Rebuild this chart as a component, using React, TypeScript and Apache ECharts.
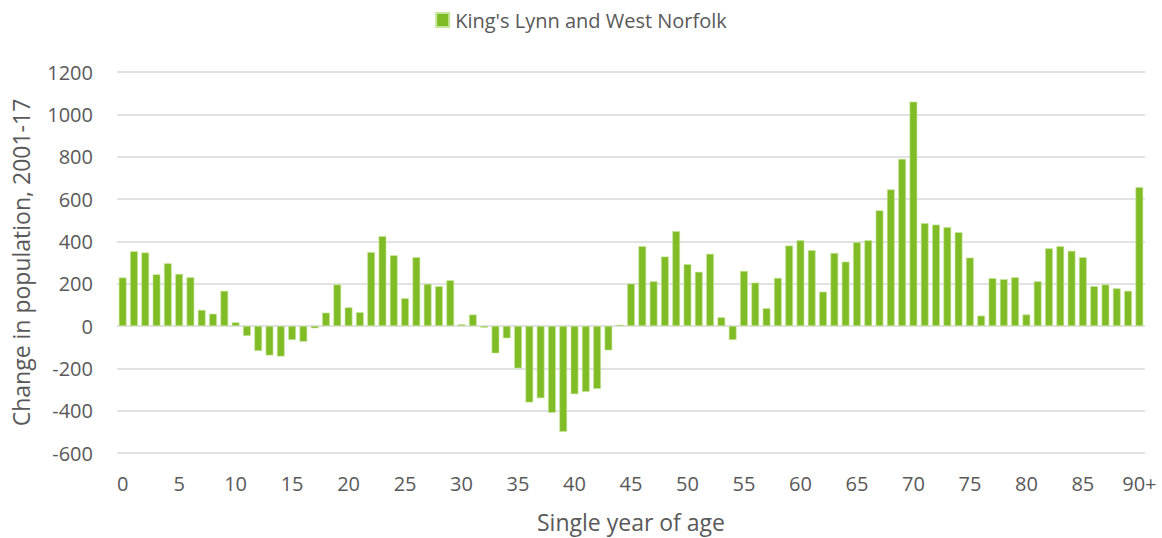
import React, { useEffect, useRef } from "react";
import * as echarts from "echarts";

const seriesName = "King's Lynn and West Norfolk";
const ages: string[] = [];
for (let i = 0; i <= 89; i++) ages.push(String(i));
ages.push("90+");

const values: number[] = [
  229, 353, 347, 244, 296, 246, 230, 76, 58, 166,
  17, -47, -118, -139, -144, -66, -74, -11, 63, 196,
  88, 65, 349, 424, 334, 131, 325, 199, 188, 216,
  8, 54, -8, -129, -58, -200, -361, -341, -410, -500,
  -322, -311, -297, -115, 6, 200, 377, 211, 328, 448,
  292, 256, 341, 41, -66, 260, 205, 84, 227, 380,
  405, 358, 162, 345, 304, 396, 405, 546, 645, 789,
  1060, 486, 479, 467, 443, 323, 49, 226, 221, 230,
  54, 211, 367, 377, 355, 325, 188, 196, 178, 166,
  656,
];

const yTicks = { min: -600, max: 1200, interval: 200 };

export default function App() {
  const ref = useRef<HTMLDivElement>(null);
  useEffect(() => {
    if (!ref.current) return;
    const chart = echarts.init(ref.current, undefined, { renderer: "svg" });
    const font = "'Open Sans', sans-serif";
    chart.setOption({
      animation: false,
      textStyle: { fontFamily: font },
      legend: {
        top: 5,
        left: "center",
        itemWidth: 13,
        itemHeight: 14,
        itemGap: 4,
        icon: "rect",
        textStyle: { fontSize: 20, color: "#595959", fontFamily: font, padding: [0, 0, 0, 1] },
        data: [seriesName],
      },
      grid: { left: 117, right: 17, top: 72, bottom: 85, outerBoundsMode: "none", containLabel: false },
      xAxis: {
        type: "category",
        data: ages,
        name: "Single year of age",
        nameLocation: "middle",
        nameGap: 57,
        nameTextStyle: { fontSize: 23, color: "#595959" },
        axisLine: { show: false, onZero: false },
        axisTick: { show: false },
        axisLabel: {
          interval: 4,
          fontSize: 20,
          color: "#595959",
          margin: 20,
        },
      },
      yAxis: {
        type: "value",
        min: yTicks.min,
        max: yTicks.max,
        interval: yTicks.interval,
        name: "Change in population, 2001-17",
        nameLocation: "middle",
        nameGap: 85,
        nameTextStyle: { fontSize: 23, color: "#595959" },
        axisLine: { show: false },
        axisTick: { show: false },
        axisLabel: {
          fontSize: 20,
          color: "#595959",
          margin: 24,
          formatter: (v: number) => String(v),
        },
        splitLine: { lineStyle: { color: "#d9d9d9", width: 1.5 } },
      },
      series: [
        {
          name: seriesName,
          type: "bar",
          data: values,
          barWidth: "68%",
          itemStyle: {
            color: "#80bc25",
            borderColor: "#c6e59a",
            borderWidth: 0.6,
          },
        },
      ],
    });
    return () => chart.dispose();
  }, []);
  return (
    <div
      ref={ref}
      style={{ position: "absolute", left: 0, top: 0, width: 1162, height: 538 }}
    />
  );
}
